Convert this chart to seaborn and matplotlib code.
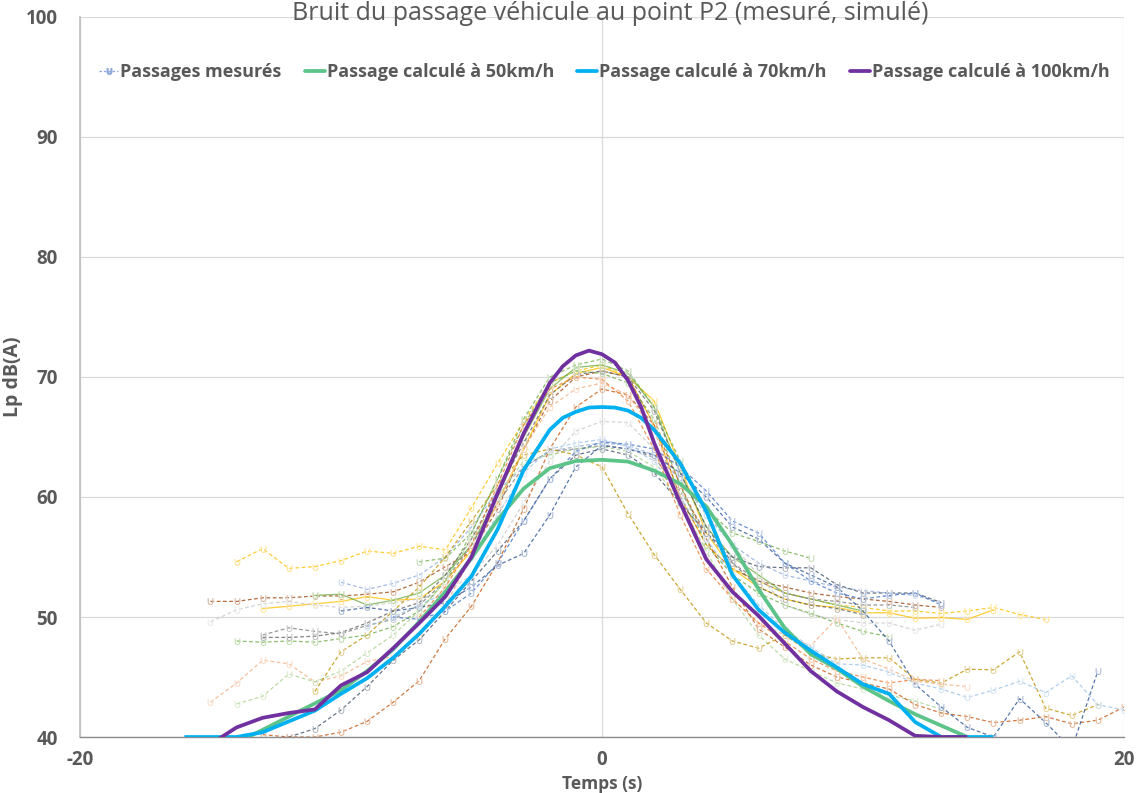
import numpy as np
import pandas as pd
import matplotlib
matplotlib.use("Agg")
import matplotlib.pyplot as plt
import seaborn as sns
from matplotlib.lines import Line2D

# ---------------- data ----------------
TITLE = "Bruit du passage véhicule au point P2 (mesuré, simulé)"
X_LABEL = "Temps (s)"
Y_LABEL = "Lp dB(A)"
LEGEND_LABELS = ["Passages mesurés", "Passage calculé à 50km/h",
                 "Passage calculé à 70km/h", "Passage calculé à 100km/h"]
X_TICKS = [-20, 0, 20]
Y_TICKS = [40, 50, 60, 70, 80, 90, 100]

# calculated passages
t_50 = [-14, -13, -12, -11, -10, -9, -8, -7, -6, -5, -4, -3, -2, -1, 0, 1, 2, 3, 4, 5,
        6, 7, 8, 9, 10, 11, 12, 13, 14, 15]
lp_50 = [39.5, 40.6, 41.7, 42.8, 43.9, 45.5, 47.3, 49.6, 52.1, 54.9, 58.1, 60.7, 62.4, 63.0,
         63.1, 62.95, 62.2, 61.1, 59.2, 56.0, 52.3, 49.1, 46.9, 45.7, 44.2, 43.0, 41.9, 40.95,
         40.0, 39.2]
t_70 = [-16, -15, -14, -13, -12, -11, -10, -9, -8, -7, -6, -5, -4, -3, -2, -1.5, -1, -0.5,
        0, 0.5, 1, 1.5, 2, 3, 4, 5, 6, 7, 8, 9, 10, 11, 12, 13, 14, 15]
lp_70 = [40.0, 40.0, 40.0, 40.4, 41.3, 42.2, 43.6, 44.9, 46.6, 48.6, 50.9, 53.4, 57.3, 62.25,
         65.6, 66.6, 67.1, 67.45, 67.5, 67.45, 67.2, 66.6, 65.6, 62.8, 58.8, 53.5, 50.6, 48.7,
         47.2, 45.8, 44.4, 43.6, 41.25, 40.0, 40.0, 40.0]
t_100 = [-15, -14, -13, -12, -11, -10, -9, -8, -7, -6, -5, -4, -3, -2, -1.5, -1, -0.5, 0,
         0.5, 1, 1.5, 2, 3, 4, 5, 6, 7, 8, 9, 10, 11, 12, 13, 14]
lp_100 = [39.4, 40.8, 41.6, 42.0, 42.3, 44.3, 45.4, 47.4, 49.5, 51.7, 55.0, 60.3, 65.3, 69.5,
          70.9, 71.8, 72.2, 71.9, 71.2, 69.7, 67.5, 64.5, 59.5, 54.8, 52.1, 50.1, 47.8, 45.5,
          43.8, 42.5, 41.4, 40.1, 40.0, 40.0]

# measured passages: (first time, values every second)
m01_t0, m01 = -15, [51.3, 51.3, 51.6, 51.6, 51.75, 51.75, 51.9, 52.1, 52.9, 54.2, 55.4, 59.0,
                    64.0, 68.0, 70.0, 70.5, 70.0, 66.0, 60.0, 56.0, 54.0, 53.0, 52.5, 52.0,
                    51.7, 51.5, 51.3, 51.0, 50.8]
m02_t0, m02 = -14, [54.6, 55.7, 54.05, 54.2, 54.7, 55.5, 55.3, 55.9, 55.6, 59.1, 62.8, 66.3,
                    69.5, 70.5, 71.0, 70.0, 66.0, 60.0, 56.0, 54.0, 53.0, 52.0, 51.5, 51.0,
                    50.8, 50.5, 50.5, 50.3, 50.5, 50.8, 50.2, 49.8]
m03_t0, m03 = -13, [50.7, 50.9, 51.1, 51.3, 51.7, 51.4, 51.5, 53.0, 55.5, 59.5, 64.0, 68.5,
                    70.3, 70.8, 70.0, 68.0, 62.5, 57.0, 54.0, 52.5, 51.5, 51.0, 50.8, 50.35,
                    50.35, 49.9, 49.95, 49.8, 50.6]
m04_t0, m04 = -15, [49.6, 50.6, 51.1, 51.3, 51.0, 50.8, 50.9, 51.2, 51.5, 52.0, 53.5, 56.0,
                    59.5, 63.0, 65.5, 66.3, 66.2, 64.0, 61.7, 58.9, 56.0, 53.5, 51.0, 50.2,
                    49.8, 49.5, 49.5, 48.9, 49.4]
m05_t0, m05 = -11, [51.8, 51.9, 51.0, 51.4, 52.0, 53.5, 56.0, 60.0, 65.0, 69.0, 70.8, 71.0,
                    70.3, 67.5, 62.0, 57.5, 55.0, 53.5, 52.0, 51.5, 51.0, 50.5]
m06_t0, m06 = -7, [54.6, 54.9, 57.0, 61.5, 66.5, 70.0, 71.0, 71.5, 70.5, 67.5, 63.0, 59.0,
                   57.0, 56.3, 55.5, 54.9]
m07_t0, m07 = -10, [52.9, 52.3, 52.8, 53.5, 55.0, 57.5, 60.5, 62.5, 63.8, 64.2, 64.5, 64.3,
                    63.5, 61.5, 58.5, 56.0, 54.5, 53.5, 53.0, 52.5, 52.2, 52.0, 51.8, 51.2]
m08_t0, m08 = -13, [48.5, 49.1, 48.8, 48.6, 49.3, 49.8, 51.0, 53.0, 56.0, 59.5, 62.5, 63.8,
                    64.0, 64.3, 64.0, 63.3, 60.5, 57.0, 54.5, 53.0, 52.0, 51.5, 51.3, 51.0,
                    51.0, 50.8]
m09_t0, m09 = -14, [48.0, 47.9, 48.0, 47.9, 48.2, 48.5, 49.2, 50.5, 53.0, 57.0, 61.5, 66.0,
                    69.5, 70.5, 70.3, 69.5, 66.5, 61.0, 56.0, 53.5, 52.0, 51.0, 50.3, 49.5,
                    48.8, 48.35]
m10_t0, m10 = -13, [48.3, 48.3, 48.4, 48.7, 49.5, 50.5, 51.2, 53.5, 56.5, 60.5, 64.5, 68.5,
                    70.2, 70.5, 70.0, 67.2, 62.0, 57.5, 54.5, 52.5, 51.5, 51.0, 50.7, 50.2]
m11_t0, m11 = -15, [42.9, 44.5, 46.4, 46.1, 44.6, 45.1, 46.3, 46.7, 48.5, 51.0, 55.0, 59.5,
                    64.0, 67.5, 69.0, 69.5, 68.5, 65.5, 60.0, 55.0, 51.5, 49.5, 48.5, 47.6,
                    49.9, 46.5, 45.65, 44.65, 44.4, 44.2]
m12_t0, m12 = -14, [42.75, 43.4, 45.25, 44.6, 45.5, 47.0, 48.5, 50.5, 53.0, 56.5, 60.0, 63.0,
                    63.5, 64.0, 64.2, 63.8, 62.5, 59.5, 55.5, 51.5, 48.5, 46.5, 45.5, 44.5,
                    44.0, 43.5, 43.0, 42.3]
m13_t0, m13 = -11, [43.8, 47.1, 48.5, 50.5, 52.5, 55.0, 58.0, 61.0, 63.5, 64.0, 63.5, 62.5,
                    58.6, 55.2, 52.3, 49.5, 48.0, 47.4, 48.5, 47.0, 46.5, 46.6, 46.6, 44.8,
                    44.5, 45.65, 45.6, 47.1, 42.4, 41.8, 42.7]
m14_t0, m14 = -12, [40.0, 40.7, 42.25, 44.2, 46.4, 48.1, 50.5, 53.0, 55.5, 58.0, 61.5, 63.5,
                    64.0, 63.5, 62.0, 59.5, 57.0, 55.0, 54.2, 54.1, 54.1, 52.7, 52.0, 52.0,
                    52.0, 51.2]
m15_t0, m15 = -13, [40.2, 40.0, 40.0, 40.4, 41.3, 42.9, 44.7, 48.2, 50.9, 54.5, 59.0, 64.0,
                    67.5, 69.0, 68.5, 66.0, 61.0, 56.5, 52.5, 49.0, 47.5, 46.0, 45.0, 44.5,
                    44.0, 42.7, 42.0, 41.7, 41.2, 41.4, 41.7, 41.1, 41.4, 42.5]
m16_t0, m16 = -10, [50.5, 50.8, 50.5, 50.8, 51.2, 52.5, 54.3, 55.3, 58.5, 62.5, 64.3, 64.0,
                    63.5, 62.0, 60.0, 57.5, 56.5, 54.5, 53.5, 52.5, 50.5, 48.0, 44.4, 42.5,
                    40.8, 40.0, 43.2, 41.2, 39.0, 45.5]
m17_t0, m17 = -9, [49.2, 50.0, 51.0, 52.0, 55.0, 58.5, 62.0, 64.0, 64.5, 64.8, 64.2, 63.0,
                   60.0, 56.5, 53.5, 51.0, 49.0, 47.5, 46.1, 46.0, 45.4, 44.5, 44.0, 43.3,
                   43.9, 44.65, 43.7, 45.1, 42.7, 42.25]
m18_t0, m18 = -7, [50.0, 52.5, 56.0, 61.0, 66.0, 69.0, 70.0, 69.8, 68.0, 64.0, 58.5, 54.0,
                   51.5, 49.5, 48.0, 46.5, 45.5, 45.0, 44.5, 44.8, 44.7]
m19_t0, m19 = -8, [50.0, 49.8, 50.5, 52.0, 54.5, 58.0, 61.5, 63.8, 64.6, 64.4, 64.0, 62.5,
                   60.5, 58.0, 57.0, 54.5, 53.0, 52.0, 51.5, 51.8, 52.0, 51.0]

measured = [(m01_t0, m01), (m02_t0, m02), (m03_t0, m03), (m04_t0, m04), (m05_t0, m05),
            (m06_t0, m06), (m07_t0, m07), (m08_t0, m08), (m09_t0, m09), (m10_t0, m10),
            (m11_t0, m11), (m12_t0, m12), (m13_t0, m13), (m14_t0, m14), (m15_t0, m15),
            (m16_t0, m16), (m17_t0, m17), (m18_t0, m18), (m19_t0, m19)]

# ---------------- style ----------------
meas_colors = ["#9E480E", "#FFC000", "#FFC000", "#C9C9C9", "#70AD47", "#70AD47", "#8FAADC",
               "#7F7F7F", "#70AD47", "#636363", "#F4B183", "#A9D18E", "#BF9000", "#44546A",
               "#C55A11", "#2F5597", "#9DC3E6", "#ED7D31", "#4472C4"]
meas_solid = {2, 4}
C_50, C_70, C_100 = "#5CC389", "#00B0F0", "#7030A0"
TXT = "#595959"

sns.set_theme(style="white")
plt.rcParams['font.family'] = ['Open Sans', 'DejaVu Sans']
plt.rcParams['axes.unicode_minus'] = False

fig = plt.figure(figsize=(11.36, 7.93), dpi=100)
ax = fig.add_axes([0.0704, 0.0706, 0.919, 0.908])

for i, (t0, vals) in enumerate(measured):
    df = pd.DataFrame({"t": np.arange(t0, t0 + len(vals)), "lp": vals})
    ls = "-" if i in meas_solid else (0, (3, 2))
    sns.lineplot(data=df, x="t", y="lp", ax=ax, color=meas_colors[i], lw=0.9,
                 linestyle=ls, alpha=0.8, marker=r"$\cup$", markersize=5,
                 markeredgewidth=0.4, estimator=None, legend=False, zorder=2)

for tt, vv, col in [(t_50, lp_50, C_50), (t_70, lp_70, C_70), (t_100, lp_100, C_100)]:
    df = pd.DataFrame({"t": tt, "lp": vv})
    sns.lineplot(data=df, x="t", y="lp", ax=ax, color=col, lw=2.7, estimator=None,
                 legend=False, zorder=3, solid_capstyle="butt", solid_joinstyle="round")

ax.set_xlim(-20, 20)
ax.set_ylim(40, 100)
ax.set_xticks(X_TICKS)
ax.set_yticks(Y_TICKS)
ax.grid(True, color="#D9D9D9", lw=0.9)
ax.set_axisbelow(True)
for s in ["top", "right"]:
    ax.spines[s].set_visible(False)
ax.spines["left"].set_color("#BFBFBF")
ax.spines["bottom"].set_color("#8C8C8C")
ax.spines["bottom"].set_linewidth(1.0)
ax.tick_params(axis="both", length=0, labelsize=13.5, labelcolor=TXT)
ax.tick_params(axis="y", pad=16)
ax.tick_params(axis="x", pad=9)
for lab in ax.get_xticklabels() + ax.get_yticklabels():
    lab.set_fontweight("bold")

ax.set_xlabel(X_LABEL, fontsize=12.5, fontweight="bold", color=TXT, labelpad=4)
ax.set_ylabel(Y_LABEL, fontsize=14, fontweight="bold", color=TXT, labelpad=2)

fig.text(0.537, 0.999, TITLE, ha="center", va="top", fontsize=18, color=TXT)

handles = [
    Line2D([], [], color="#8FAADC", lw=0.9, linestyle=(0, (2, 1.5)), marker=r"$\cup$",
           markersize=4),
    Line2D([], [], color=C_50, lw=2.7),
    Line2D([], [], color=C_70, lw=2.7),
    Line2D([], [], color=C_100, lw=2.7),
]
leg = ax.legend(handles, LEGEND_LABELS, loc="center", bbox_to_anchor=(0.502, 0.9236),
                ncol=4, frameon=False, handlelength=1.1, handletextpad=0.1,
                columnspacing=1.3, prop={"size": 13, "weight": "bold"})
for txt in leg.get_texts():
    txt.set_color(TXT)

fig.savefig("out.png", dpi=100)
